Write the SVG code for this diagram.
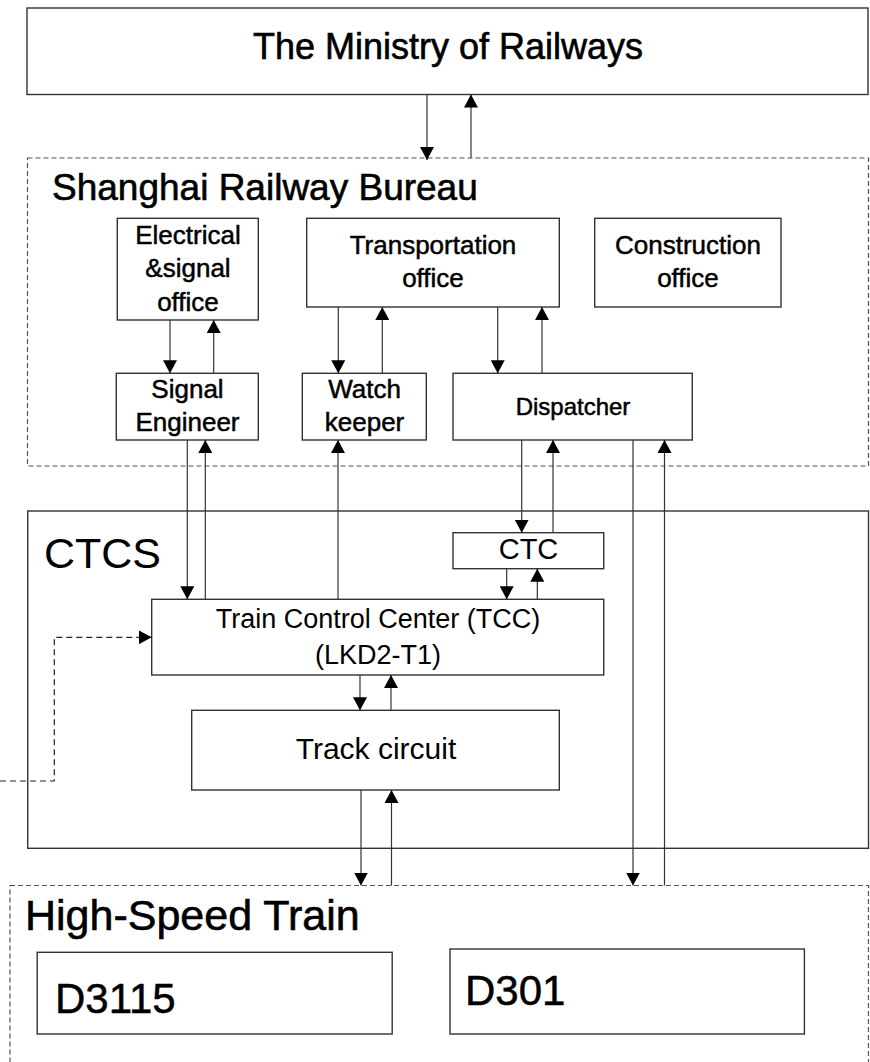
<svg xmlns="http://www.w3.org/2000/svg" width="870" height="1062" viewBox="0 0 870 1062">
<defs>
<marker id="ah" viewBox="0 0 13 14" refX="13" refY="7" markerWidth="13" markerHeight="14" markerUnits="userSpaceOnUse" orient="auto">
<path d="M0,0 L13,7 L0,14 z" fill="#000"/>
</marker>
<style>
.box{fill:#fff;stroke:#333;stroke-width:1.4}
.dbox{fill:none;stroke:#555;stroke-width:1.2;stroke-dasharray:5,3}
.c{fill:none;stroke:#333;stroke-width:1.2}
.a{marker-end:url(#ah)}
.dash{fill:none;stroke:#222;stroke-width:1.2;stroke-dasharray:6,4}
text{font-family:"Liberation Sans",Arial,sans-serif;fill:#000}
.m{text-anchor:middle}
.b{stroke:#000;stroke-width:0.5}
.t{stroke:#000;stroke-width:0.6}
</style>
</defs>
<rect width="870" height="1062" fill="#fff"/>

<g id="ministry">
<rect class="box" x="27" y="8" width="841" height="86.5"/>
<text class="m t" x="448" y="59" font-size="36">The Ministry of Railways</text>
</g>

<g id="bureau">
<rect class="dbox" x="27.5" y="158" width="841" height="308"/>
<text class="t" x="52" y="200" font-size="37">Shanghai Railway Bureau</text>
</g>

<g id="electrical">
<rect class="box" x="117.3" y="218.3" width="141" height="101.7"/>
<text class="m b" x="188" y="244" font-size="26">Electrical</text>
<text class="m b" x="188" y="277" font-size="26">&amp;signal</text>
<text class="m b" x="188" y="311" font-size="26">office</text>
</g>

<g id="transportation">
<rect class="box" x="306.7" y="218.3" width="252.6" height="88.7"/>
<text class="m b" x="433" y="254" font-size="26">Transportation</text>
<text class="m b" x="433" y="287" font-size="26">office</text>
</g>

<g id="construction">
<rect class="box" x="594.7" y="218.3" width="186.3" height="88.7"/>
<text class="m b" x="688" y="254" font-size="26">Construction</text>
<text class="m b" x="688" y="287" font-size="26">office</text>
</g>

<g id="signal-engineer">
<rect class="box" x="116.3" y="373.3" width="142" height="66.7"/>
<text class="m b" x="187.5" y="398" font-size="26">Signal</text>
<text class="m b" x="187.5" y="431" font-size="26">Engineer</text>
</g>

<g id="watch-keeper">
<rect class="box" x="302.3" y="373.3" width="124" height="66.7"/>
<text class="m b" x="364.5" y="398" font-size="26">Watch</text>
<text class="m b" x="364.5" y="431" font-size="26">keeper</text>
</g>

<g id="dispatcher">
<rect class="box" x="453" y="373.3" width="239.3" height="66.7"/>
<text class="m b" x="573" y="415" font-size="24">Dispatcher</text>
</g>

<g id="ctcs">
<rect class="box" x="27.7" y="511" width="840.8" height="337.3"/>
<text x="44" y="568" font-size="43">CTCS</text>
</g>

<g id="ctc">
<rect class="box" x="453" y="532.7" width="150.7" height="36"/>
<text class="m" x="528.5" y="559" font-size="29">CTC</text>
</g>

<g id="tcc">
<rect class="box" x="151.7" y="599.3" width="452" height="75.7"/>
<text class="m" x="378" y="628" font-size="27">Train Control Center (TCC)</text>
<text class="m" x="378" y="664" font-size="27">(LKD2-T1)</text>
</g>

<g id="track-circuit">
<rect class="box" x="191.7" y="710.3" width="367.6" height="79.7"/>
<text class="m" x="376" y="759" font-size="30">Track circuit</text>
</g>

<g id="train">
<rect class="dbox" x="10" y="885.5" width="858.5" height="190"/>
<text class="t" x="25" y="930" font-size="43">High-Speed Train</text>
</g>

<g id="d3115">
<rect class="box" x="37.2" y="952.3" width="355" height="81.7"/>
<text class="b" x="55" y="1013" font-size="42">D3115</text>
</g>

<g id="d301">
<rect class="box" x="450" y="949" width="354.4" height="85"/>
<text class="b" x="465" y="1005" font-size="42">D301</text>
</g>

<g id="connectors">
<line class="c a" x1="427" y1="94.5" x2="427" y2="160"/>
<line class="c a" x1="471" y1="158" x2="471" y2="94.5"/>
<line class="c a" x1="170" y1="320" x2="170" y2="373.3"/>
<line class="c a" x1="213.7" y1="373.3" x2="213.7" y2="320"/>
<line class="c a" x1="338.3" y1="307" x2="338.3" y2="373.3"/>
<line class="c a" x1="382.3" y1="373.3" x2="382.3" y2="307"/>
<line class="c a" x1="497.7" y1="307" x2="497.7" y2="373.3"/>
<line class="c a" x1="542" y1="373.3" x2="542" y2="307"/>
<line class="c a" x1="187.3" y1="440" x2="187.3" y2="599.3"/>
<line class="c a" x1="205.3" y1="599.3" x2="205.3" y2="440"/>
<line class="c a" x1="338" y1="599.3" x2="338" y2="440"/>
<line class="c a" x1="521.7" y1="440" x2="521.7" y2="532.7"/>
<line class="c a" x1="553" y1="532.7" x2="553" y2="440"/>
<line class="c a" x1="506.7" y1="568.7" x2="506.7" y2="599.3"/>
<line class="c a" x1="537.3" y1="599.3" x2="537.3" y2="568.7"/>
<line class="c a" x1="360" y1="675" x2="360" y2="710.3"/>
<line class="c a" x1="391" y1="710.3" x2="391" y2="675"/>
<line class="c a" x1="361" y1="790" x2="361" y2="885.5"/>
<line class="c a" x1="391.5" y1="885.5" x2="391.5" y2="790"/>
<line class="c a" x1="633" y1="440" x2="633" y2="885.5"/>
<line class="c a" x1="664.5" y1="885.5" x2="664.5" y2="440"/>
<polyline class="dash a" points="0,781 54.3,781 54.3,637.3 151.7,637.3"/>
</g>
</svg>
